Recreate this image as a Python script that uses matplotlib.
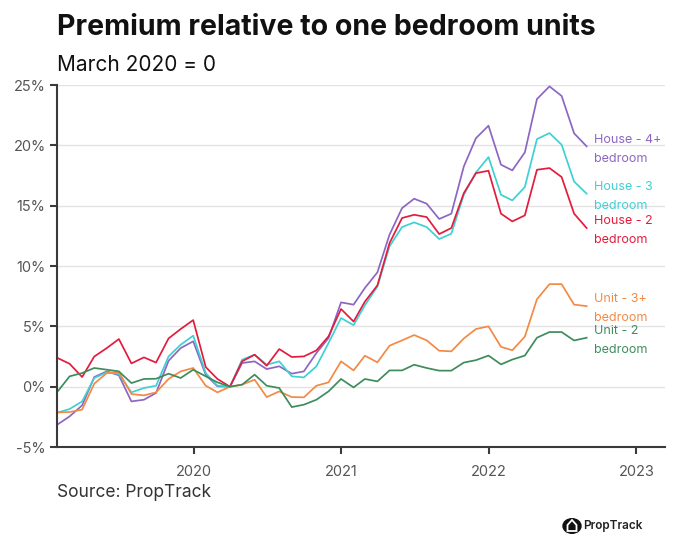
import numpy as np
import pandas as pd
import matplotlib
matplotlib.use("Agg")
import matplotlib.pyplot as plt
import matplotlib.dates as mdates
from matplotlib.patches import Circle, Polygon

plt.rcParams['font.family'] = ['Inter', 'DejaVu Sans']

# monthly, Jan 2019 - Aug 2022 (month end), % premium over one bedroom units, March 2020 = 0
months = pd.date_range("2019-01-31", "2022-08-31", freq="ME")

house_4 = [-3.09, -2.46, -1.55, 0.8, 1.27, 0.94, -1.22, -1.08, -0.52, 2.15, 3.2, 3.76,
           0.99, 0.03, 0.0, 1.96, 2.1, 1.46, 1.69, 1.08, 1.27, 2.79, 4.03, 6.99,
           6.8, 8.18, 9.48, 12.6, 14.8, 15.58, 15.17, 13.9, 14.34, 18.26, 20.6, 21.63,
           18.4, 17.93, 19.42, 23.84, 24.89, 24.1, 21.0, 19.92]
house_3 = [-2.13, -1.85, -1.22, 0.72, 1.19, 1.05, -0.47, -0.11, 0.08, 2.51, 3.48, 4.23,
           1.13, 0.08, 0.0, 2.24, 2.65, 1.82, 2.1, 0.86, 0.77, 1.69, 3.62, 5.69,
           5.1, 6.75, 8.3, 11.63, 13.23, 13.62, 13.23, 12.24, 12.68, 15.91, 17.76, 19.03,
           15.91, 15.44, 16.55, 20.52, 21.02, 20.06, 17.0, 16.0]
house_2 = [2.35, 1.9, 0.8, 2.5, 3.2, 3.95, 1.93, 2.43, 2.0, 4.0, 4.78, 5.52,
           1.63, 0.64, 0.0, 2.1, 2.65, 1.74, 3.12, 2.46, 2.51, 3.01, 4.17, 6.44,
           5.4, 7.05, 8.4, 11.9, 13.98, 14.25, 14.06, 12.65, 13.15, 16.05, 17.7, 17.9,
           14.34, 13.7, 14.2, 17.98, 18.12, 17.38, 14.34, 13.15]
unit_3 = [-2.13, -2.1, -1.9, 0.25, 1.13, 1.22, -0.61, -0.72, -0.47, 0.64, 1.27, 1.55,
          0.08, -0.47, 0.0, 0.17, 0.58, -0.86, -0.39, -0.86, -0.88, 0.08, 0.36, 2.1,
          1.35, 2.57, 2.02, 3.4, 3.84, 4.28, 3.84, 2.98, 2.93, 4.0, 4.78, 5.0,
          3.3, 3.02, 4.15, 7.25, 8.5, 8.5, 6.8, 6.68]
unit_2 = [-0.33, 0.86, 1.13, 1.55, 1.41, 1.27, 0.3, 0.64, 0.66, 1.08, 0.72, 1.41,
          0.86, 0.36, 0.0, 0.17, 1.0, 0.08, -0.11, -1.69, -1.49, -1.08, -0.39, 0.64,
          -0.06, 0.64, 0.44, 1.35, 1.35, 1.82, 1.55, 1.33, 1.33, 2.0, 2.2, 2.58,
          1.85, 2.25, 2.58, 4.06, 4.53, 4.53, 3.83, 4.06]

labels = ["House - 4+\nbedroom", "House - 3\nbedroom", "House - 2\nbedroom",
          "Unit - 3+\nbedroom", "Unit - 2\nbedroom"]
colors = ["#8c66c2", "#3fd0d4", "#e31c3d", "#f28a45", "#3e8c5e"]
series = [house_4, house_3, house_2, unit_3, unit_2]

fig = plt.figure(figsize=(6.86, 5.56), dpi=100)
ax = fig.add_axes([0.0838, 0.196, 0.885, 0.651])

for vals, col, lab in zip(series, colors, labels):
    ax.plot(months, vals, color=col, lw=1.25)
    ax.annotate(lab, xy=(months[-1], vals[-1]), xytext=(5, -2), textcoords="offset points",
                color=col, fontsize=9, va="center", ha="left", linespacing=1.8)

ax.set_ylim(-5, 25)
ax.set_yticks(range(-5, 26, 5))
ax.set_yticklabels([f"{v}%" for v in range(-5, 26, 5)])
ax.set_xlim(pd.Timestamp("2019-01-29"), pd.Timestamp("2023-03-12"))
ax.xaxis.set_major_locator(mdates.YearLocator())
ax.xaxis.set_major_formatter(mdates.DateFormatter("%Y"))

ax.grid(axis="y", color="#e3e3e3", lw=1)
ax.set_axisbelow(True)
for s in ["top", "right"]:
    ax.spines[s].set_visible(False)
for s in ["left", "bottom"]:
    ax.spines[s].set_color("#3a3a3a")
    ax.spines[s].set_linewidth(1.5)
ax.tick_params(colors="#3a3a3a", labelcolor="#555555", labelsize=10.5, length=5, width=1.5)
ax.tick_params(axis="x", pad=8)

fig.text(0.083, 0.951, "Premium relative to one bedroom units", fontsize=20.5,
         fontweight="bold", color="#111111", va="center")
fig.text(0.083, 0.883, "March 2020 = 0", fontsize=15, color="#111111", va="center")
fig.text(0.083, 0.115, "Source: PropTrack", fontsize=12.5, color="#333333", va="center")

# logo
cx, cy = 572 / 686, 1 - 526 / 556
fig.patches.append(Circle((cx, cy), 9 / 686, transform=fig.transFigure, color="#111111"))
hw, hh = 4.5 / 686, 5 / 556
fig.patches.append(Polygon([(cx - hw, cy - hh), (cx + hw, cy - hh), (cx + hw, cy + 0.2 * hh),
                            (cx, cy + hh * 1.2), (cx - hw, cy + 0.2 * hh)], closed=True,
                           transform=fig.transFigure, fill=False, ec="white", lw=1.3))
fig.text(583 / 686, cy, "PropTrack", fontsize=8.5, fontweight="semibold",
         color="#222222", va="center")

fig.savefig("out.png", dpi=100)
